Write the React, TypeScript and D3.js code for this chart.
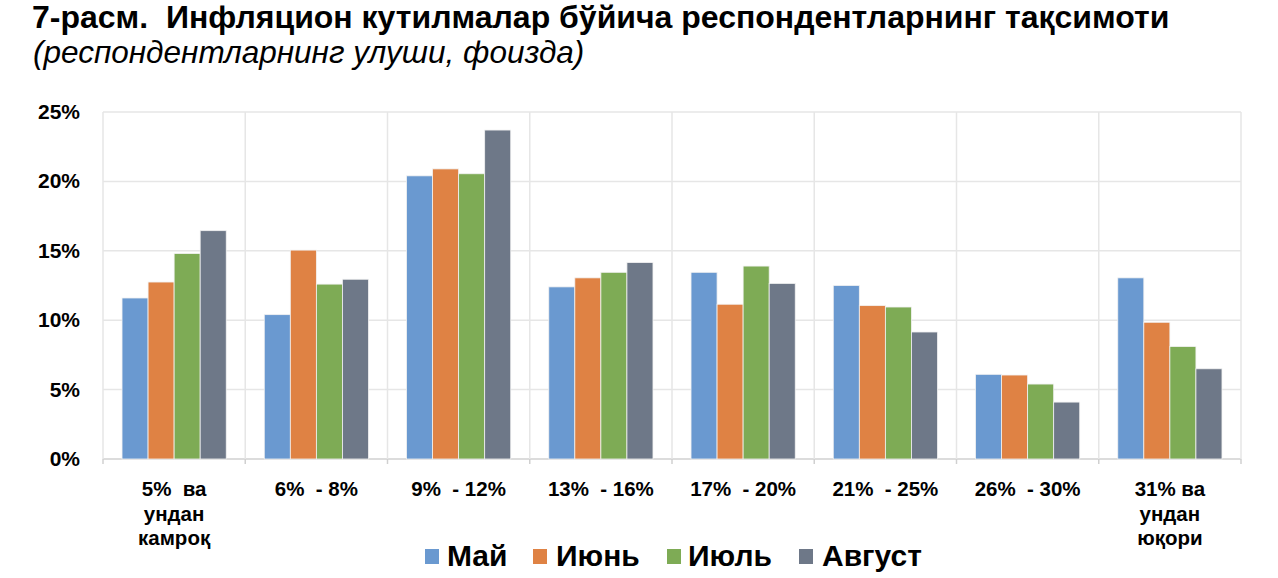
import React from "react";
import * as d3 from "d3";

const categories: string[][] = [
  ["5%  ва", "ундан", "камроқ"],
  ["6%  - 8%"],
  ["9%  - 12%"],
  ["13%  - 16%"],
  ["17%  - 20%"],
  ["21%  - 25%"],
  ["26%  - 30%"],
  ["31% ва", "ундан", "юқори"],
];
const seriesNames = ["Май", "Июнь", "Июль", "Август"];
const seriesColors = ["#6a99d0", "#df8244", "#7eab55", "#6e7888"];
const may = [11.6, 10.4, 20.4, 12.4, 13.45, 12.5, 6.1, 13.05];
const june = [12.75, 15.05, 20.9, 13.05, 11.15, 11.05, 6.05, 9.85];
const july = [14.8, 12.6, 20.55, 13.45, 13.9, 10.95, 5.4, 8.1];
const august = [16.45, 12.95, 23.7, 14.15, 12.65, 9.15, 4.1, 6.5];
const yTicks = [0, 5, 10, 15, 20, 25];

const W = 1278;
const H = 578;
const FONT = "'Liberation Sans', Arial, sans-serif";

export default function App() {
  const left = 103;
  const right = 1241;
  const top = 112;
  const bottom = 459;
  const series = [may, june, july, august];
  const catKeys = categories.map((_, i) => String(i));
  const x = d3.scaleBand<string>().domain(catKeys).range([left, right]).padding(0);
  const xs = d3
    .scaleBand<string>()
    .domain(seriesNames)
    .range([0, x.bandwidth()])
    .paddingInner(0)
    .paddingOuter(0.73);
  const y = d3.scaleLinear().domain([0, 25]).range([bottom, top]);

  const legendItems = [
    { sq: 425, tx: 447 },
    { sq: 533, tx: 556 },
    { sq: 667, tx: 688 },
    { sq: 799, tx: 822 },
  ];

  return (
    <svg
      width={W}
      height={H}
      style={{ position: "absolute", left: 0, top: 0, background: "#fff", whiteSpace: "pre" }}
      fontFamily={FONT}
    >
      <text x={32} y={28} fontSize={32} fontWeight="bold" fill="#000" style={{ whiteSpace: "pre" }}>
        {"7-расм.  Инфляцион кутилмалар бўйича респондентларнинг тақсимоти"}
      </text>
      <text x={33} y={63} fontSize={31.5} fontStyle="italic" fill="#000">
        (респондентларнинг улуши, фоизда)
      </text>

      {/* horizontal gridlines */}
      {yTicks.map((t) => (
        <line
          key={"h" + t}
          x1={left}
          x2={right}
          y1={y(t)}
          y2={y(t)}
          stroke={t === 0 ? "#d0d0d0" : "#e6e6e6"}
          strokeWidth={1.5}
        />
      ))}
      {/* vertical gridlines at category boundaries */}
      {d3.range(categories.length + 1).map((i) => {
        const xv = i < categories.length ? (x(String(i)) as number) : right;
        return (
          <g key={"v" + i}>
            <line x1={xv} x2={xv} y1={top} y2={bottom} stroke="#e6e6e6" strokeWidth={1.5} />
            <line x1={xv} x2={xv} y1={bottom} y2={bottom + 5} stroke="#d0d0d0" strokeWidth={1.5} />
          </g>
        );
      })}

      {/* y tick labels */}
      {yTicks.map((t) => (
        <text
          key={"yt" + t}
          x={80}
          y={y(t) + 7}
          textAnchor="end"
          fontSize={21}
          fontWeight="bold"
          fill="#000"
        >
          {t}%
        </text>
      ))}

      {/* bars */}
      {categories.map((_, ci) => (
        <g key={"c" + ci} transform={`translate(${x(String(ci))},0)`}>
          {series.map((vals, si) => (
            <rect
              key={si}
              x={xs(seriesNames[si]) as number}
              y={y(vals[ci])}
              width={xs.bandwidth()}
              height={bottom - y(vals[ci])}
              fill={seriesColors[si]}
              stroke="#f2f2f2"
              strokeWidth={0.8}
            />
          ))}
        </g>
      ))}

      {/* x labels */}
      {categories.map((lines, ci) => (
        <text
          key={"xl" + ci}
          x={(x(String(ci)) as number) + x.bandwidth() / 2}
          y={496}
          textAnchor="middle"
          fontSize={20.5}
          fontWeight="bold"
          fill="#000"
          style={{ whiteSpace: "pre" }}
        >
          {lines.map((l, li) => (
            <tspan key={li} x={(x(String(ci)) as number) + x.bandwidth() / 2} dy={li === 0 ? 0 : 24.5}>
              {l}
            </tspan>
          ))}
        </text>
      ))}

      {/* legend */}
      {seriesNames.map((n, i) => (
        <g key={"lg" + i}>
          <rect x={legendItems[i].sq} y={549} width={14} height={15} fill={seriesColors[i]} />
          <text x={legendItems[i].tx} y={566} fontSize={30} fontWeight="bold" fill="#000">
            {n}
          </text>
        </g>
      ))}
    </svg>
  );
}
